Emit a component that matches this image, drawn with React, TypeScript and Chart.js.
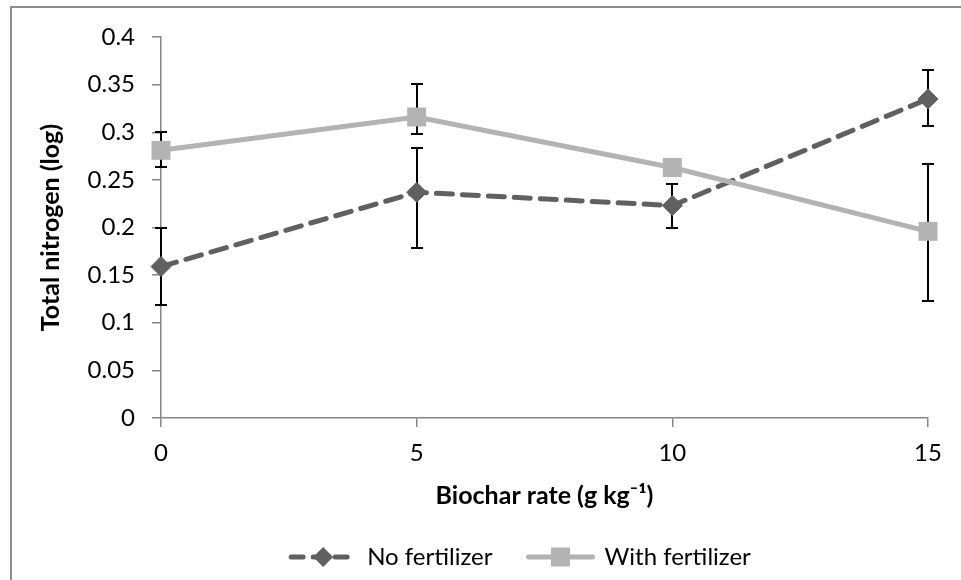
import React, { useEffect, useRef } from 'react';
import { Chart, registerables } from 'chart.js';

Chart.register(...registerables);

const biocharRates = [0, 5, 10, 15];
const xTickLabels = ['0', '5', '10', '15'];
const yTickLabels = ['0', '0.05', '0.1', '0.15', '0.2', '0.25', '0.3', '0.35', '0.4'];
const seriesNames = ['No fertilizer', 'With fertilizer'];
const noFertilizer = [0.159, 0.237, 0.223, 0.335];
const noFertilizerHigh = [0.199, 0.283, 0.246, 0.365];
const noFertilizerLow = [0.119, 0.178, 0.2, 0.307];
const withFertilizer = [0.281, 0.316, 0.263, 0.196];
const withFertilizerHigh = [0.3, 0.351, 0.267, 0.267];
const withFertilizerLow = [0.263, 0.298, 0.259, 0.123];
const yTitle = 'Total nitrogen (log)';
const xTitle = 'Biochar rate (g kg⁻¹)';

const DARK = '#606060';
const LIGHT = '#b3b3b3';
const AXIS = '#868686';
const FONT = 'Lato';

const errorBarPlugin = {
  id: 'errorBars',
  beforeDatasetsDraw(chart: any) {
    const { ctx, scales } = chart;
    const x = scales.x;
    const y = scales.y;
    ctx.save();
    ctx.strokeStyle = '#000';
    ctx.lineWidth = 2;
    const sets = [
      [noFertilizerLow, noFertilizerHigh],
      [withFertilizerLow, withFertilizerHigh],
    ];
    sets.forEach(([lo, hi]) => {
      biocharRates.forEach((r, i) => {
        const px = Math.round(x.getPixelForValue(r));
        const top = Math.round(y.getPixelForValue(hi[i]));
        const bot = Math.round(y.getPixelForValue(lo[i]));
        ctx.beginPath();
        ctx.moveTo(px, top);
        ctx.lineTo(px, bot);
        ctx.moveTo(px - 6, top);
        ctx.lineTo(px + 6, top);
        ctx.moveTo(px - 6, bot);
        ctx.lineTo(px + 6, bot);
        ctx.stroke();
      });
    });
    ctx.restore();
  },
};

const framePlugin = {
  id: 'frameAndLegend',
  afterDraw(chart: any) {
    const ctx = chart.ctx;
    ctx.save();
    // outer frame
    ctx.strokeStyle = '#8c8c8c';
    ctx.lineWidth = 2;
    ctx.strokeRect(11, 7, chart.width + 20, chart.height + 20);

    // legend
    ctx.font = `24px ${FONT}`;
    ctx.textBaseline = 'middle';
    ctx.textAlign = 'left';
    const sampleW = 68;
    const gapText = 10;
    const gapItems = 34;
    const widths = seriesNames.map((n) => ctx.measureText(n).width);
    const total = sampleW * 2 + gapText * 2 + widths[0] + widths[1] + gapItems;
    let xPos = 520 - total / 2;
    const yPos = 557;

    // item 1
    ctx.strokeStyle = DARK;
    ctx.lineWidth = 5;
    ctx.lineCap = 'round';
    ctx.setLineDash([12, 10]);
    ctx.beginPath();
    ctx.moveTo(xPos + 2, yPos);
    ctx.lineTo(xPos + sampleW - 2, yPos);
    ctx.stroke();
    ctx.setLineDash([]);
    const c1 = xPos + sampleW / 2;
    ctx.fillStyle = DARK;
    ctx.beginPath();
    ctx.moveTo(c1 - 10, yPos);
    ctx.lineTo(c1, yPos - 10);
    ctx.lineTo(c1 + 10, yPos);
    ctx.lineTo(c1, yPos + 10);
    ctx.closePath();
    ctx.fill();
    xPos += sampleW + gapText;
    ctx.fillStyle = '#000';
    ctx.fillText(seriesNames[0], xPos, yPos);
    xPos += widths[0] + gapItems;

    // item 2
    ctx.strokeStyle = LIGHT;
    ctx.lineWidth = 5;
    ctx.beginPath();
    ctx.moveTo(xPos + 2, yPos);
    ctx.lineTo(xPos + sampleW - 2, yPos);
    ctx.stroke();
    const c2 = xPos + sampleW / 2;
    ctx.fillStyle = LIGHT;
    ctx.fillRect(c2 - 9.5, yPos - 9.5, 19, 19);
    xPos += sampleW + gapText;
    ctx.fillStyle = '#000';
    ctx.fillText(seriesNames[1], xPos, yPos);
    ctx.restore();
  },
};

export default function App() {
  const canvasRef = useRef<HTMLCanvasElement | null>(null);

  useEffect(() => {
    document.body.style.margin = '0';
    const canvas = canvasRef.current;
    if (!canvas) return;
    const chart = new Chart(canvas, {
      type: 'line',
      data: {
        datasets: [
          {
            label: seriesNames[0],
            data: biocharRates.map((r, i) => ({ x: r, y: noFertilizer[i] })),
            borderColor: DARK,
            backgroundColor: DARK,
            borderWidth: 5,
            borderDash: [16, 10],
            borderCapStyle: 'round',
            pointStyle: 'rectRot',
            pointRadius: 10,
            pointBackgroundColor: DARK,
            pointBorderColor: DARK,
            pointBorderWidth: 1,
            tension: 0,
            clip: false,
            order: 2,
          } as any,
          {
            label: seriesNames[1],
            data: biocharRates.map((r, i) => ({ x: r, y: withFertilizer[i] })),
            borderColor: LIGHT,
            backgroundColor: LIGHT,
            borderWidth: 5,
            pointStyle: 'rect',
            pointRadius: 13.4,
            pointBackgroundColor: LIGHT,
            pointBorderColor: LIGHT,
            pointBorderWidth: 0,
            tension: 0,
            clip: false,
            order: 1,
          } as any,
        ],
      },
      options: {
        animation: false,
        responsive: false,
        maintainAspectRatio: false,
        devicePixelRatio: 1,
        layout: { padding: { left: 36, right: 33, top: 37, bottom: 69 } },
        plugins: {
          legend: { display: false },
          tooltip: { enabled: false },
        },
        scales: {
          x: {
            type: 'linear',
            min: 0,
            max: 15,
            afterFit: (s: any) => {
              s.height = 93;
            },
            ticks: {
              stepSize: 5,
              padding: 12,
              color: '#000',
              font: { family: FONT, size: 24 },
              callback: (_v: any, i: number) => xTickLabels[i],
            },
            grid: {
              drawOnChartArea: false,
              drawTicks: true,
              tickLength: 9,
              color: AXIS,
              lineWidth: 1.5,
            },
            border: { display: true, color: AXIS, width: 1.5 },
            title: {
              display: true,
              text: xTitle,
              color: '#000',
              padding: 0,
              font: { family: FONT, size: 25, weight: 'bold' },
            },
          },
          y: {
            type: 'linear',
            min: 0,
            max: 0.4,
            afterFit: (s: any) => {
              s.width = 125;
            },
            ticks: {
              stepSize: 0.05,
              padding: 17,
              color: '#000',
              font: { family: FONT, size: 24 },
              callback: (_v: any, i: number) => yTickLabels[i],
            },
            grid: {
              drawOnChartArea: false,
              drawTicks: true,
              tickLength: 9,
              color: AXIS,
              lineWidth: 1.5,
            },
            border: { display: true, color: AXIS, width: 1.5 },
            title: {
              display: true,
              text: yTitle,
              color: '#000',
              padding: 0,
              font: { family: FONT, size: 25, weight: 'bold' },
            },
          },
        },
      } as any,
      plugins: [errorBarPlugin, framePlugin],
    });
    return () => chart.destroy();
  }, []);

  return (
    <div style={{ width: 961, height: 580, position: 'relative' }}>
      <canvas
        ref={canvasRef}
        width={961}
        height={580}
        style={{ width: 961, height: 580, display: 'block' }}
      />
    </div>
  );
}
